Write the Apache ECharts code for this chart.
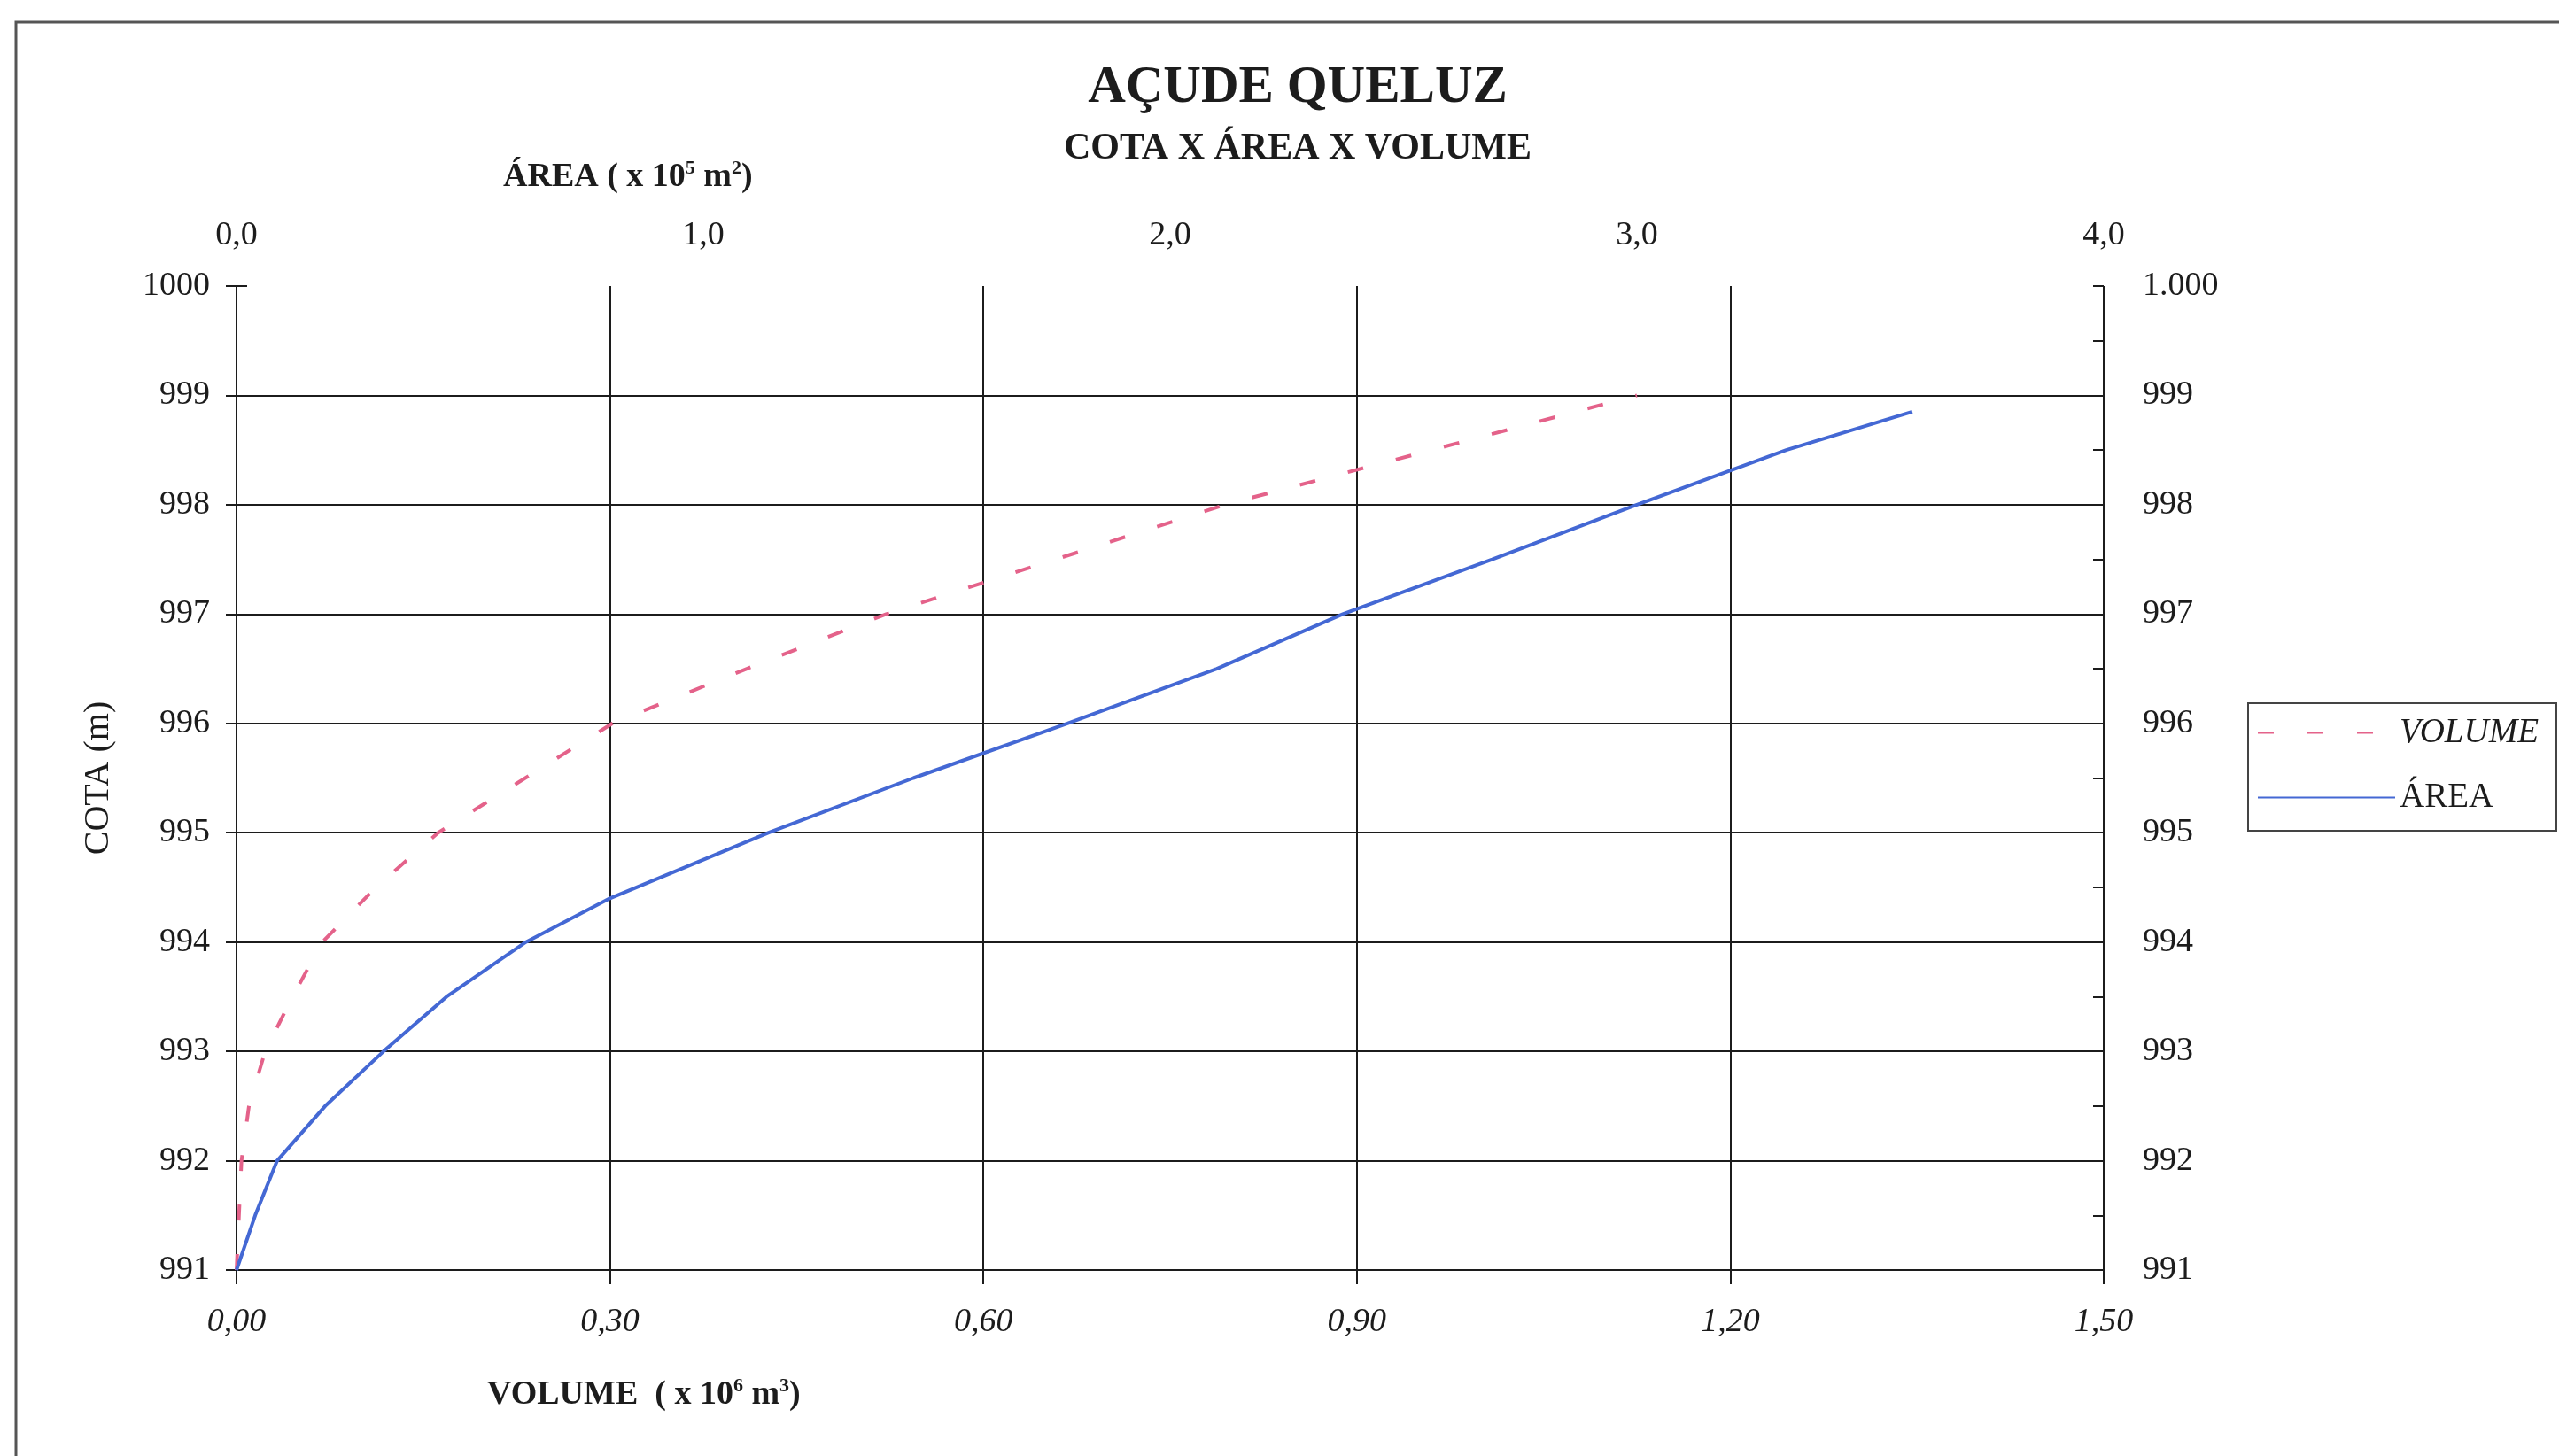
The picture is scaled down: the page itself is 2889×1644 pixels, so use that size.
<!DOCTYPE html>
<html>
<head>
<meta charset="utf-8">
<title>Açude Queluz</title>
<script src="https://cdn.jsdelivr.net/npm/echarts@6/dist/echarts.min.js"></script>
<style>
  html, body { margin: 0; padding: 0; background: #fff; }
  #main { width: 2889px; height: 1644px; }
</style>
</head>
<body>
<div id="main"></div>
<script>
// cota (m) x volume (x 10^6 m3)
const cotaVolume = [991, 991.5, 992, 992.5, 993, 993.5, 994, 994.5, 995, 995.5, 996, 996.5, 997, 997.5, 998, 998.5, 999];
const volume = [0, 0.002, 0.004, 0.010, 0.023, 0.045, 0.069, 0.112, 0.162, 0.232, 0.302, 0.410, 0.522, 0.658, 0.794, 0.960, 1.125];

// cota (m) x area (x 10^5 m2)
const cotaArea = [991, 991.5, 992, 992.5, 993, 993.5, 994, 994.4, 995, 995.5, 996, 996.5, 997, 997.5, 998, 998.5, 998.85];
const area = [0, 0.04, 0.087, 0.19, 0.315, 0.45, 0.62, 0.80, 1.14, 1.45, 1.78, 2.10, 2.37, 2.69, 3.00, 3.32, 3.59];

const serif = '"Liberation Serif", "DejaVu Serif", serif';
const ink = '#1c1c1c';

const chart = echarts.init(document.getElementById('main'));

const option = {
  backgroundColor: '#fff',
  animation: false,
  title: [
    {
      text: 'AÇUDE QUELUZ',
      left: 1465, top: 70, padding: 0, textAlign: 'center',
      textStyle: { fontFamily: serif, fontSize: 59, fontWeight: 'bold', color: ink }
    },
    {
      text: 'COTA X ÁREA X VOLUME',
      left: 1465, top: 147, padding: 0, textAlign: 'center',
      textStyle: { fontFamily: serif, fontSize: 42, fontWeight: 'bold', color: ink }
    },
    {
      text: 'ÁREA ( x 10{sup|5} m{sup|2})',
      left: 568, top: 179, padding: 0,
      textStyle: {
        fontFamily: serif, fontSize: 38, fontWeight: 'bold', color: ink, lineHeight: 42,
        rich: { sup: { fontFamily: serif, fontSize: 22, fontWeight: 'bold', color: ink, verticalAlign: 'top', lineHeight: 22 } }
      }
    },
    {
      text: 'VOLUME  ( x 10{sup|6} m{sup|3})',
      left: 550, top: 1554, padding: 0,
      textStyle: {
        fontFamily: serif, fontSize: 38, fontWeight: 'bold', color: ink, lineHeight: 42,
        rich: { sup: { fontFamily: serif, fontSize: 22, fontWeight: 'bold', color: ink, verticalAlign: 'top', lineHeight: 22 } }
      }
    }
  ],
  legend: {
    orient: 'vertical',
    left: 2538, top: 794,
    padding: [14, 20, 18, 10],
    itemGap: 34,
    itemWidth: 155,
    itemHeight: 14,
    borderColor: '#444',
    borderWidth: 2,
    itemStyle: { opacity: 0 },
    data: ['VOLUME', 'ÁREA'],
    formatter: function (name) {
      return name === 'VOLUME' ? '{it|' + name + '}' : name;
    },
    textStyle: {
      fontFamily: serif, fontSize: 39, color: ink,
      rich: { it: { fontFamily: serif, fontSize: 39, fontStyle: 'italic', color: ink } }
    }
  },
  // outer frame of the original sheet
  graphic: [{
    type: 'rect',
    shape: { x: 18, y: 25, width: 3200, height: 2000 },
    style: { fill: null, stroke: '#555', lineWidth: 3 },
    silent: true
  }],
  grid: { left: 267, right: 514, top: 323, bottom: 210 },
  xAxis: [
    {
      type: 'value', position: 'bottom',
      min: 0, max: 1.5, interval: 0.3,
      axisLine: { show: true, lineStyle: { color: ink, width: 2 } },
      axisTick: { show: true, length: 16, lineStyle: { color: ink, width: 2 } },
      axisLabel: {
        margin: 40, fontFamily: serif, fontSize: 38, fontStyle: 'italic', color: ink,
        formatter: function (v) { return v.toFixed(2).replace('.', ','); }
      },
      splitLine: { show: true, lineStyle: { color: ink, width: 2 } }
    },
    {
      type: 'value', position: 'top',
      min: 0, max: 4, interval: 1,
      axisLine: { show: false },
      axisTick: { show: false },
      axisLabel: {
        margin: 38, fontFamily: serif, fontSize: 38, color: ink,
        formatter: function (v) { return v.toFixed(1).replace('.', ','); }
      },
      splitLine: { show: false }
    }
  ],
  yAxis: [
    {
      type: 'value', position: 'left',
      min: 991, max: 1000, interval: 1,
      name: 'COTA (m)', nameLocation: 'middle', nameGap: 136, nameRotate: 90,
      nameTextStyle: { fontFamily: serif, fontSize: 40, color: ink },
      axisLine: { show: true, lineStyle: { color: ink, width: 2 } },
      axisTick: { show: true, length: 12, lineStyle: { color: ink, width: 2 } },
      axisLabel: {
        margin: 30, fontFamily: serif, fontSize: 38, color: ink,
        formatter: function (v) { return String(v); }
      },
      splitLine: { show: true, showMaxLine: false, lineStyle: { color: ink, width: 2 } }
    },
    {
      type: 'value', position: 'right',
      min: 991, max: 1000, interval: 1,
      axisLine: { show: true, lineStyle: { color: ink, width: 2 } },
      axisTick: { show: true, length: 12, lineStyle: { color: ink, width: 2 } },
      axisLabel: {
        margin: 44, fontFamily: serif, fontSize: 38, color: ink,
        formatter: function (v) { return v === 1000 ? '1.000' : String(v); }
      },
      splitLine: { show: false }
    },
    {
      // minor ticks drawn inward on the right axis
      type: 'value', position: 'right',
      min: 991, max: 1000, interval: 1,
      axisLine: { show: false },
      axisTick: { show: true, inside: true, length: 12, lineStyle: { color: ink, width: 2 } },
      minorTick: { show: true, splitNumber: 2, length: 12, lineStyle: { color: ink, width: 2 } },
      axisLabel: { show: false },
      splitLine: { show: false }
    }
  ],
  series: [
    {
      name: 'VOLUME',
      type: 'line',
      xAxisIndex: 0, yAxisIndex: 0,
      symbol: 'none',
      data: volume.map(function (v, i) { return [v, cotaVolume[i]]; }),
      itemStyle: { color: '#e4628a' },
      lineStyle: { color: '#e4628a', width: 4, type: [18, 38] },
      z: 3
    },
    {
      name: 'ÁREA',
      type: 'line',
      xAxisIndex: 1, yAxisIndex: 0,
      symbol: 'none',
      data: area.map(function (a, i) { return [a, cotaArea[i]]; }),
      itemStyle: { color: '#4468d4' },
      lineStyle: { color: '#4468d4', width: 4 },
      z: 3
    }
  ]
};

chart.setOption(option);
</script>
</body>
</html>
